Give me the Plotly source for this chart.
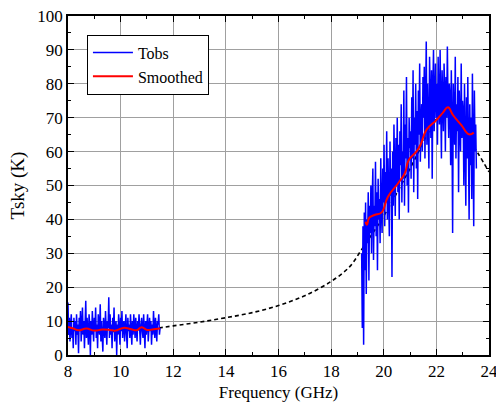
import numpy as np
import plotly.graph_objects as go

# ---- data ----
seg1_start, seg1_stop = 8.0, 11.5
tobs_low = [15.5, 6, 11, 4, 9, 12, 5, 8, 2, 11, 7, 10, 3, 12, 6, 9, 0.5, 11, 7, 13, 4, 9, 14, 6, 10, 2, 8, 16, 5, 11,
            7, 3, 12, 9, 0, 10, 6, 13, 8, 4, 11, 7, 14, 5, 9, 2, 12, 8, 6, 15, 4, 10, 7, 1, 11, 9, 5, 13, 7, 3,
            10, 8, 17, 5, 12, 6, 9, 2, 11, 7, 14, 4, 8, 10, 0, 9, 6, 12, 8, 3, 11, 7, 13, 5, 9, 10, 4, 8, 12, 6,
            2, 11, 7, 9, 5, 12, 8, 3, 10, 6, 12, 9, 5, 11, 7, 4, 10, 8, 12, 6, 3, 9, 11, 7, 5, 12, 8, 2, 10, 6,
            9, 12, 4, 8, 11, 7, 10, 3, 9, 6, 13, 8, 5, 11, 7, 4, 10, 9, 12, 6, 8]

seg2_start, seg2_stop = 19.16, 23.52
tobs_high = [30, 8, 38, 3, 42, 25, 45, 18, 40, 33, 48, 22, 44, 36,
             50, 30, 46, 55, 28, 44, 38, 57, 35, 48, 25, 52, 40, 46, 33, 58, 42, 36, 55, 45,
             62, 38, 54, 45, 66, 40, 58, 50, 35, 63, 47, 55, 23, 60, 44, 68, 52, 41, 64, 50,
             70, 48, 62, 40, 66, 56, 74, 45, 60, 52, 78, 44, 68, 58, 82, 50, 64, 42, 70, 61,
             66, 52, 76, 58, 84, 48, 70, 62, 80, 55, 72, 46, 78, 65, 86, 57, 68, 74, 60, 82,
             70, 85, 58, 76, 92.5, 62, 80, 68, 55, 88, 72, 64, 84, 52, 78, 90, 66, 74, 86, 70,
             80, 62, 88, 74, 68, 90, 76, 58, 84, 72, 66, 86, 78, 60, 82, 70, 91, 74, 64, 80,
             76, 56, 84, 68, 36, 80, 72, 62, 88, 58, 74, 66, 82, 48, 78, 70, 60, 86, 64, 75,
             72, 50, 80, 62, 44, 76, 58, 82, 66, 40, 74, 56, 70, 46, 83, 64, 38, 78, 60, 68, 55]

smooth_low_f = [8.0, 8.2, 8.4, 8.7, 9.0, 9.3, 9.6, 9.8, 10.1, 10.4, 10.6, 10.8, 11.0, 11.2, 11.5]
smooth_low_t = [8.3, 7.8, 7.3, 7.8, 7.2, 7.5, 7.4, 7.2, 8.0, 7.6, 7.3, 8.2, 7.4, 7.5, 7.8]

smooth_high_f = [19.31, 19.36, 19.45, 19.65, 19.91, 20.16, 20.54, 20.8, 20.95, 21.24, 21.4, 21.62, 22.0, 22.25,
                 22.44, 22.63, 22.95, 23.24, 23.42]
smooth_high_t = [39.3, 38.4, 40.5, 41.3, 42.0, 46.7, 50.6, 53.6, 57.5, 60.0, 62.0, 66.4, 69.3, 71.5,
                 73.1, 70.8, 67.8, 65.1, 65.6]

model_f = [8, 9, 10, 11, 11.5, 12, 13, 14, 15, 16, 17, 18, 18.7, 19.15, 19.5, 20, 21, 21.8, 22.3, 22.8, 23.2, 23.58, 24]
model_t = [6.2, 6.6, 7.1, 7.7, 8.05, 8.6, 9.7, 11, 12.5, 14.6, 17.5, 21.7, 26, 31, 35, 41, 55, 67, 72, 68, 64, 59.5, 54]

x_ticks = [8, 10, 12, 14, 16, 18, 20, 22, 24]
y_ticks = [0, 10, 20, 30, 40, 50, 60, 70, 80, 90, 100]

f_low = np.linspace(seg1_start, seg1_stop, len(tobs_low))
f_high = np.linspace(seg2_start, seg2_stop, len(tobs_high))

FONT = '"Liberation Serif", "Times New Roman", serif'
fig = go.Figure()

fig.add_trace(go.Scatter(x=model_f, y=model_t, mode="lines", showlegend=False,
                         line=dict(color="black", width=1.6, dash="4px,3px", shape="spline")))
fig.add_trace(go.Scatter(x=list(f_low) + [None] + list(f_high), y=tobs_low + [None] + tobs_high,
                         mode="lines", name="Tobs", line=dict(color="#0000ff", width=1.5), connectgaps=False))
fig.add_trace(go.Scatter(x=smooth_low_f + [None] + smooth_high_f, y=smooth_low_t + [None] + smooth_high_t,
                         mode="lines", name="Smoothed", line=dict(color="#ff0000", width=2, shape="spline",
                                                                  smoothing=1.3),
                         connectgaps=False))

axis_common = dict(showline=True, linecolor="black", linewidth=1.5, mirror="allticks",
                   ticks="inside", ticklen=6, tickwidth=1.2, tickcolor="black",
                   showgrid=True, gridcolor="#a0a0a0", gridwidth=1, zeroline=False,
                   ticklabeloverflow="allow",
                   tickfont=dict(family=FONT, size=17, color="black"))

fig.update_xaxes(range=[8, 24], tickvals=x_ticks, ticktext=[str(v) for v in x_ticks],
                 minor=dict(dtick=1, ticks="inside", ticklen=3, tickcolor="black", showgrid=False),
                 title=dict(text="Frequency (GHz)", font=dict(family=FONT, size=17, color="black"), standoff=6),
                 **axis_common)
fig.update_yaxes(range=[0, 100], tickvals=y_ticks, ticktext=[str(v) for v in y_ticks],
                 minor=dict(dtick=5, ticks="inside", ticklen=3, tickcolor="black", showgrid=False),
                 title=dict(text="Tsky (K)", font=dict(family=FONT, size=19, color="black"), standoff=8),
                 **axis_common)

fig.update_layout(
    width=496, height=404,
    margin=dict(l=68, r=7, t=16, b=49, autoexpand=False),
    plot_bgcolor="white", paper_bgcolor="white",
    font=dict(family=FONT, size=17, color="black"),
    legend=dict(x=0.045, y=0.945, xanchor="left", yanchor="top", bgcolor="white",
                bordercolor="black", borderwidth=1, font=dict(family=FONT, size=16),
                tracegroupgap=0, itemwidth=40),
)

fig.write_html("out.html")
